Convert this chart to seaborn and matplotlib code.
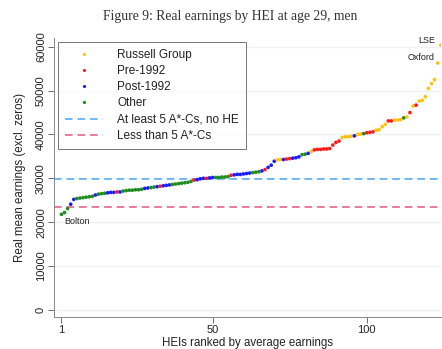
import matplotlib
matplotlib.use("Agg")
import matplotlib.pyplot as plt
from matplotlib.lines import Line2D
import seaborn as sns
import pandas as pd
import numpy as np

# ---- data ----
earnings = [21.8, 22.2, 23.1, 24.1, 25.2, 25.4, 25.5, 25.6, 25.7, 25.8,
            25.9, 26.2, 26.4, 26.5, 26.6, 26.7, 26.8, 26.8, 26.9, 26.9,
            27.1, 27.2, 27.3, 27.3, 27.4, 27.4, 27.5, 27.7, 27.8, 27.9,
            28.0, 28.1, 28.2, 28.3, 28.4, 28.5, 28.6, 28.7, 28.8, 28.9,
            29.0, 29.1, 29.3, 29.6, 29.7, 29.9, 30.0, 30.0, 30.1, 30.2,
            30.2, 30.2, 30.3, 30.3, 30.4, 30.7, 30.8, 30.9, 30.9, 31.0,
            31.1, 31.2, 31.3, 31.4, 31.5, 31.7, 32.0, 32.5, 33.0, 33.9,
            34.2, 34.3, 34.3, 34.4, 34.5, 34.6, 34.7, 34.9, 35.4, 35.5,
            35.7, 36.1, 36.5, 36.6, 36.6, 36.7, 36.7, 36.8, 37.6, 38.2,
            38.5, 39.3, 39.5, 39.5, 39.6, 39.7, 40.0, 40.1, 40.2, 40.4,
            40.5, 40.6, 41.0, 41.1, 41.8, 42.3, 43.1, 43.1, 43.3, 43.3,
            43.4, 43.8, 44.0, 45.0, 46.5, 46.7, 47.6, 47.8, 48.6, 50.5,
            51.6, 52.5, 56.3, 60.4]
earnings = [v * 1000 for v in earnings]

# group codes: R = Russell Group, P = Pre-1992, N = Post-1992, O = Other
group_runs = [("O", 3), ("N", 2), ("O", 6), ("N", 1), ("O", 3), ("N", 3), ("P", 1),
              ("N", 1), ("O", 7), ("N", 2), ("O", 2), ("N", 1), ("P", 1), ("N", 3),
              ("O", 7), ("P", 1), ("N", 3), ("P", 1), ("N", 2), ("O", 5), ("P", 1),
              ("N", 6), ("O", 3), ("N", 1), ("P", 1), ("N", 3), ("R", 2), ("N", 1),
              ("P", 2), ("N", 3), ("O", 2), ("N", 1), ("R", 1), ("P", 9), ("R", 4),
              ("N", 1), ("R", 2), ("O", 1), ("P", 3), ("R", 4), ("P", 2), ("R", 3),
              ("O", 1), ("R", 1), ("P", 1), ("R", 1), ("P", 1), ("R", 8)]
groups = [g for g, n in group_runs for _ in range(n)]
ranks = list(range(1, len(earnings) + 1))

group_labels = {"R": "Russell Group", "P": "Pre-1992", "N": "Post-1992", "O": "Other"}
group_colors = {"R": "#FFC20E", "P": "#FF1A1A", "N": "#1A1AFF", "O": "#1E8C1E"}

ref_labels = ["At least 5 A*-Cs, no HE", "Less than 5 A*-Cs"]
ref_values = [29850, 23350]
ref_colors = ["#4DA6F0", "#E0587E"]

annot_names = ["Bolton", "Oxford", "LSE"]
annot_ranks = [1, 123, 124]

df = pd.DataFrame({"rank": ranks, "earn": earnings,
                   "group": [group_labels[g] for g in groups]})
palette = {group_labels[k]: v for k, v in group_colors.items()}

# ---- plot ----
sns.set_style("white")
plt.rcParams["font.family"] = ["Liberation Sans", "DejaVu Sans"]

fig = plt.figure(figsize=(4.42, 3.49), dpi=100)
ax = fig.add_axes([0.123, 0.092, 0.875, 0.799])

for y in range(0, 70000, 10000):
    ax.axhline(y, color="#EAF2F3", lw=0.9, zorder=0)

for v, c in zip(ref_values, ref_colors):
    ax.axhline(v, color=c, lw=1.1, ls=(0, (5, 3.2)), zorder=1)

sns.scatterplot(data=df, x="rank", y="earn", hue="group", palette=palette,
                s=7, linewidth=0, legend=False, ax=ax, zorder=3)

ax.set_xlim(-1.3, 124.1)
ax.set_ylim(-1600, 62000)
ax.set_xticks([1, 50, 100])
ax.set_yticks(range(0, 70000, 10000))
ax.set_yticklabels([str(v) for v in range(0, 70000, 10000)], rotation=90, va="center")
ax.tick_params(axis="both", labelsize=8, length=4, width=0.6, color="#555555",
               direction="out", left=True, bottom=True, colors="#222222")
ax.tick_params(axis="y", pad=2)
ax.tick_params(axis="x", pad=2)
for s in ["top", "right"]:
    ax.spines[s].set_visible(False)
for s in ["left", "bottom"]:
    ax.spines[s].set_color("#888888")
    ax.spines[s].set_linewidth(0.7)

ax.set_xlabel("HEIs ranked by average earnings", fontsize=8.3, labelpad=1, color="#222222")
ax.set_ylabel("Real mean earnings (excl. zeros)", fontsize=8.3, labelpad=7, color="#222222")

# annotations
e = dict(zip(ranks, earnings))
ax.annotate(annot_names[0], (annot_ranks[0], e[annot_ranks[0]]), xytext=(2, -5),
            textcoords="offset points", fontsize=6.5, ha="left", va="center", color="#222222")
ax.annotate(annot_names[1], (annot_ranks[1], e[annot_ranks[1]]), xytext=(-2, 4),
            textcoords="offset points", fontsize=6.5, ha="right", va="center", color="#222222")
ax.annotate(annot_names[2], (annot_ranks[2], e[annot_ranks[2]]), xytext=(-4, 3),
            textcoords="offset points", fontsize=6.5, ha="right", va="center", color="#222222",
            annotation_clip=False)

handles = [Line2D([], [], marker="o", ls="", ms=2.3, mec="none", mfc=group_colors[k])
           for k in ["R", "P", "N", "O"]]
handles += [Line2D([], [], color=c, lw=1.1, ls=(0, (5, 3.2))) for c in ref_colors]
labels = [group_labels[k] for k in ["R", "P", "N", "O"]] + ref_labels
leg = ax.legend(handles, labels, loc="upper left", bbox_to_anchor=(0.01, 0.987),
                fontsize=8.5, frameon=True, fancybox=False, handlelength=3.2,
                handletextpad=1.2, labelspacing=0.36, borderpad=0.6, borderaxespad=0)
leg.get_frame().set_edgecolor("#555555")
leg.get_frame().set_linewidth(0.7)
for t in leg.get_texts():
    t.set_color("#222222")

fig.text(0.52, 0.953, "Figure 9: Real earnings by HEI at age 29, men",
         ha="center", va="center", fontsize=9.8, family=["Liberation Serif", "DejaVu Serif"],
         color="#333333")

fig.savefig("out.png", dpi=100)
